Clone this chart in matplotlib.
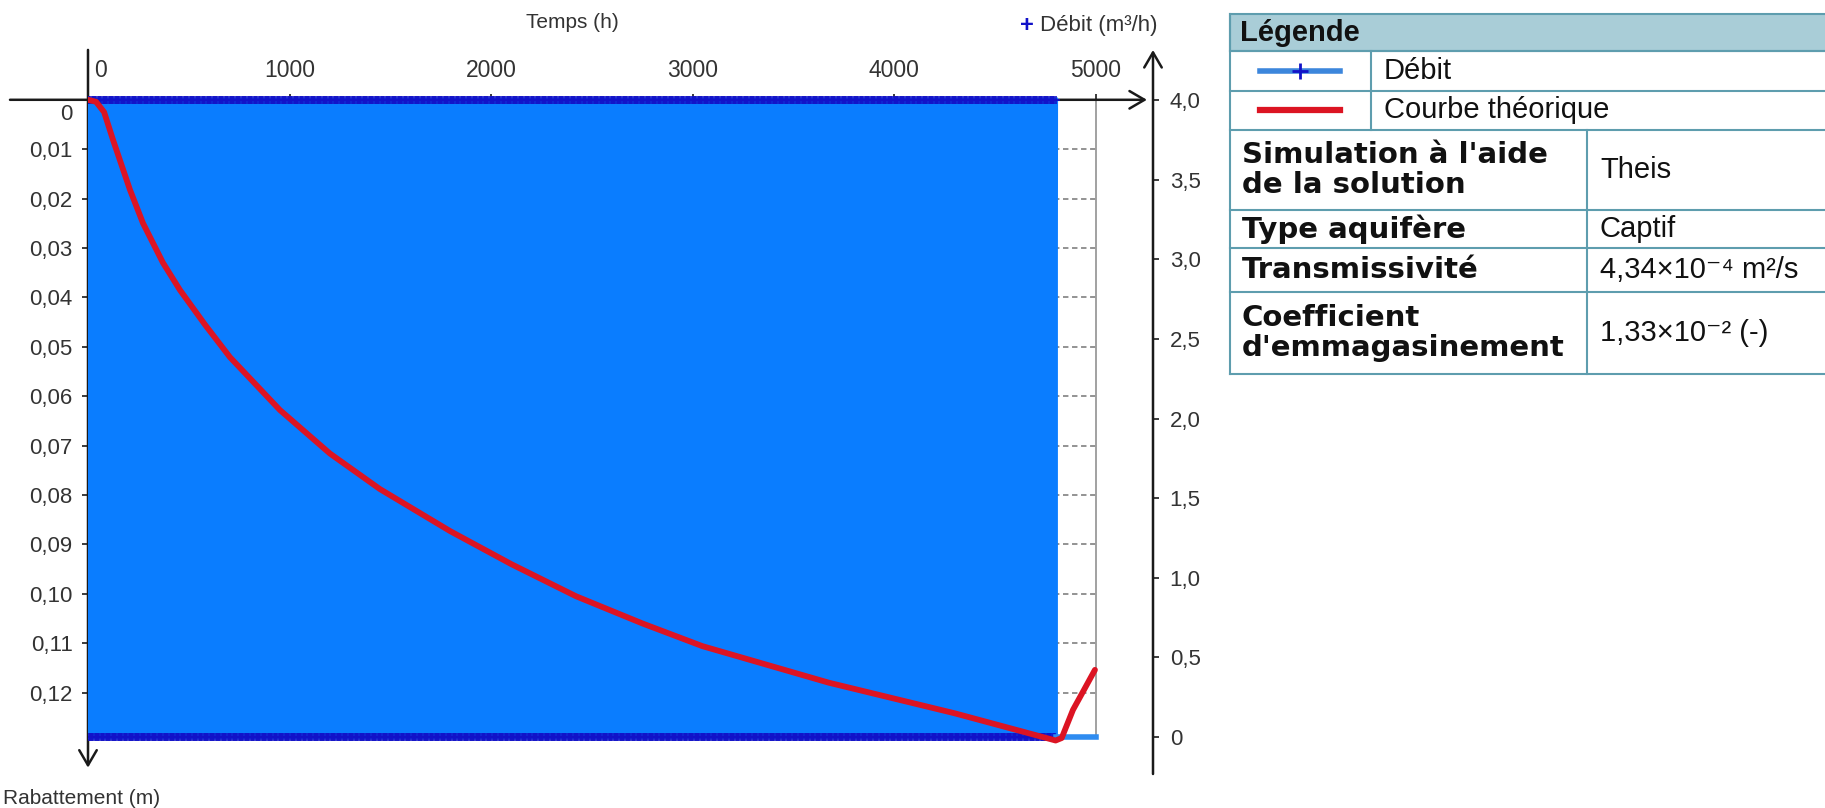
import numpy as np
import matplotlib
matplotlib.use('Agg')
import matplotlib.pyplot as plt
from matplotlib.transforms import ScaledTranslation
from matplotlib.patches import Rectangle

plt.rcParams['font.family'] = ['Liberation Sans', 'DejaVu Sans']

# courbe théorique (rabattement en m)
temps_courbe = [0, 40, 80, 124, 208, 273, 372, 456, 580, 704, 952, 1200, 1448,
                1796, 2100, 2421, 2750, 3048, 3675, 4300, 4800, 4830, 4886, 4940, 4995]
rabattement_courbe = [0, 0.0004, 0.0025, 0.0081, 0.0182, 0.025, 0.033, 0.0385,
                      0.0455, 0.0521, 0.0628, 0.0716, 0.0788, 0.0873, 0.0940,
                      0.1005, 0.1060, 0.1106, 0.1180, 0.1242, 0.1297, 0.1292,
                      0.1235, 0.1195, 0.1154]

# débit : pompage en marche / arrêt alterné, puis arrêt jusqu'à la fin du suivi
debit_pompe = 4.0
debut_pompage = 0
fin_pompage = 4800
fin_suivi = 5000
demi_cycle = 3  # h

t_pompage = np.arange(debut_pompage, fin_pompage + demi_cycle, demi_cycle)
q_pompage = np.tile([debit_pompe, 0.0], len(t_pompage) // 2 + 1)[:len(t_pompage)]
temps_arret = [fin_pompage, fin_suivi]
debit_arret = [0.0, 0.0]

# axes
x_ticks = [0, 1000, 2000, 3000, 4000, 5000]
y_ticks = [0, 0.01, 0.02, 0.03, 0.04, 0.05, 0.06, 0.07, 0.08, 0.09, 0.10, 0.11, 0.12]
y_labels = ['0', '0,01', '0,02', '0,03', '0,04', '0,05', '0,06', '0,07', '0,08',
            '0,09', '0,10', '0,11', '0,12']
q_ticks = [0, 0.5, 1.0, 1.5, 2.0, 2.5, 3.0, 3.5, 4.0]
q_labels = ['0', '0,5', '1,0', '1,5', '2,0', '2,5', '3,0', '3,5', '4,0']

# tableau de légende
lignes_tableau = [("Simulation à l'aide\nde la solution", "Theis"),
                  ("Type aquifère", "Captif"),
                  ("Transmissivité", "4,34×10⁻⁴ m²/s"),
                  ("Coefficient\nd'emmagasinement", "1,33×10⁻² (-)")]

bleu = '#0A7DFF'
marine = '#1212C8'
rouge = '#DC1423'
noir = '#1a1a1a'
gris_txt = '#333333'

W, H = 1825, 808
fig = plt.figure(figsize=(W / 100, H / 100), dpi=100)
ax = fig.add_axes([88 / W, 1 - 774 / H, (1153 - 88) / W, (774 - 50) / H])
ax.set_xlim(0, 5283)
ax.set_ylim(0.13648, -0.01008)
ax.patch.set_visible(False)
for s in ax.spines.values():
    s.set_visible(False)
ax.spines['top'].set_position(('data', 0))
ax.xaxis.tick_top()
ax.set_xticks(x_ticks, [str(v) for v in x_ticks])
ax.set_yticks(y_ticks, y_labels)
ax.tick_params(axis='x', direction='out', length=4, width=1.2, pad=9,
               labelsize=16.5, labelcolor=gris_txt, color=noir)
ax.tick_params(axis='y', direction='out', length=4, width=1.2, pad=7,
               labelsize=16, labelcolor=gris_txt, color=noir)
lbl0 = ax.get_xticklabels()[0]
lbl0.set_horizontalalignment('left')
lbl0.set_transform(lbl0.get_transform() + ScaledTranslation(6 / 100, 0, fig.dpi_scale_trans))
lbly0 = ax.get_yticklabels()[0]
lbly0.set_transform(lbly0.get_transform() + ScaledTranslation(0, -12 / 100, fig.dpi_scale_trans))

# grille (cachée en grande partie sous le débit)
ax.hlines(y_ticks[1:], 0, 5000, colors='#8a8a8a', linestyles=(0, (3, 2)), lw=1.3, zorder=0)
ax.vlines(x_ticks[1:], 0, 0.129, colors='#9a9a9a', lw=1.3, zorder=0)

# axes avec flèches
arr = dict(arrowstyle='->,head_length=0.6,head_width=0.35', color=noir, lw=1.8,
           shrinkA=0, shrinkB=0, mutation_scale=18)
ax.annotate('', xy=(5253, 0), xytext=(-387, 0), arrowprops=arr, annotation_clip=False)
ax.annotate('', xy=(0, 0.1352), xytext=(0, -0.0101), arrowprops=arr, annotation_clip=False)

# débit sur l'axe de droite
ax2 = ax.twinx()
ax2.set_ylim(-0.232, 4.314)
for s in ax2.spines.values():
    s.set_visible(False)
ax2.plot(t_pompage, q_pompage, color=bleu, lw=3.5, marker='+', ms=6, mew=1.2,
         mec=marine, zorder=2)
ax2.plot(temps_arret, debit_arret, color='#2F8CF0', lw=4, zorder=2)
ax2.set_yticks(q_ticks, q_labels)
ax2.tick_params(axis='y', direction='out', length=4, width=1.2, pad=8,
                labelsize=16, labelcolor=gris_txt, color=noir)
ax2.annotate('', xy=(1, 1), xytext=(1, 0), xycoords='axes fraction',
             arrowprops=arr, annotation_clip=False)

# courbe théorique au-dessus
ax3 = ax.twinx()
ax3.set_ylim(ax.get_ylim())
ax3.axis('off')
ax3.plot(temps_courbe, rabattement_courbe, color=rouge, lw=4.2, solid_capstyle='round',
         solid_joinstyle='round')

# textes et tableau en pixels de la figure
ov = fig.add_axes([0, 0, 1, 1])
ov.set_xlim(0, W)
ov.set_ylim(H, 0)
ov.axis('off')
ov.patch.set_visible(False)

ov.text(572, 23, 'Temps (h)', fontsize=15, color=gris_txt, ha='center', va='center')
ov.text(1027, 26, '+', fontsize=17, color=marine, ha='center', va='center', fontweight='bold')
ov.text(1040, 26, 'Débit (m³/h)', fontsize=16, color=gris_txt, ha='left', va='center')
ov.text(3, 798, 'Rabattement (m)', fontsize=15, color=gris_txt, ha='left', va='center')

x0, x_leg, x_val, x1 = 1230, 1371, 1587, 1830
rows = [14, 51, 91, 130, 210, 248, 292, 374]
trait = '#5E9DAE'
fs_tab = 21
gras = dict(fontsize=21, fontweight='bold', color='#111', family=['DejaVu Sans'])
ov.add_patch(Rectangle((x0, rows[0]), x1 - x0, rows[1] - rows[0], fc='#A9CDD7', ec=trait, lw=1.5))
for y in rows[1:]:
    ov.plot([x0, x1], [y, y], color=trait, lw=1.5)
ov.plot([x0, x0], [rows[0], rows[-1]], color=trait, lw=1.5)
ov.plot([x_leg, x_leg], [rows[1], rows[3]], color=trait, lw=1.5)
ov.plot([x_val, x_val], [rows[3], rows[-1]], color=trait, lw=1.5)

ov.text(1240, 33, 'Légende', fontsize=21, fontweight='bold', color='#111', va='center')
ov.plot([1260, 1340], [71, 71], color='#3C86DC', lw=4)
ov.plot([1300], [71], marker='+', ms=11, mew=2, color=marine)
ov.text(1384, 71, 'Débit', fontsize=fs_tab, color='#111', va='center')
ov.plot([1260, 1340], [110, 110], color=rouge, lw=4.5)
ov.text(1384, 110, 'Courbe théorique', fontsize=fs_tab, color='#111', va='center')
for i, (nom, val) in enumerate(lignes_tableau):
    yc = (rows[i + 3] + rows[i + 4]) / 2
    ov.text(1242, yc, nom, va='center', linespacing=1.1, **gras)
    ov.text(1600, yc, val, fontsize=fs_tab, color='#111', va='center')

fig.savefig('out.png', dpi=100)
